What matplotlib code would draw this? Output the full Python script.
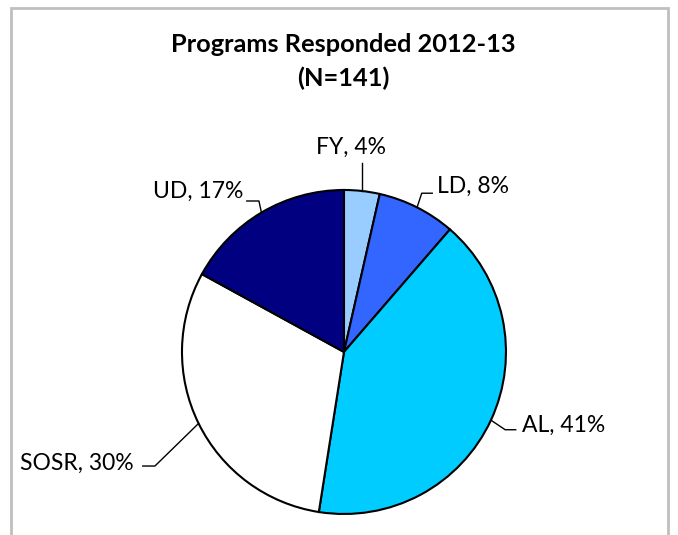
import numpy as np
import matplotlib.pyplot as plt
from matplotlib.patches import Rectangle

# programs responding (counts out of N=141)
programs = ["FY", "LD", "AL", "SOSR", "UD"]
counts = [5, 11, 58, 43, 24]
colors = ["#99CCFF", "#3366FF", "#00CCFF", "#FFFFFF", "#000080"]

# label placement: text position, elbow point of the leader, alignment
label_pos = {
    "FY": ((0.043, 1.265), None, "center"),
    "LD": ((0.574, 1.02), (0.48, 0.98), "left"),
    "AL": ((1.10, -0.45), (0.995, -0.48), "left"),
    "SOSR": ((-1.296, -0.69), (-1.167, -0.704), "right"),
    "UD": ((-0.623, 0.99), (-0.525, 0.932), "right"),
}

plt.rcParams['font.family'] = ['Lato', 'DejaVu Sans']

fig = plt.figure(figsize=(6.78, 5.35), dpi=100)

# chart frame
fig.patches.append(Rectangle((11 / 678, -0.05), 657 / 678, 1.05 - 8 / 535,
                             transform=fig.transFigure, fill=False,
                             edgecolor="#BFBFBF", linewidth=2))

ax = fig.add_axes([0.2684, 0.0393, 0.4779, 0.6056])
wedges, _ = ax.pie(counts, colors=colors, startangle=90, counterclock=False,
                   radius=1, wedgeprops=dict(edgecolor="black", linewidth=1.5))
ax.set_xlim(-1, 1)
ax.set_ylim(-1, 1)
ax.set_aspect("equal")
ax.axis("off")

total = sum(counts)
for w, name, c in zip(wedges, programs, counts):
    ang = np.deg2rad((w.theta1 + w.theta2) / 2)
    x0, y0 = np.cos(ang), np.sin(ang)
    (tx, ty), elbow, ha = label_pos[name]
    pct = round(100 * c / total)
    ax.text(tx, ty, f"{name}, {pct}%", ha=ha, va="center", fontsize=16.5,
            clip_on=False)
    if elbow is None:
        xs, ys = [x0, x0], [y0, 1.167]
    else:
        ex, ey = elbow
        end = ex + (0.065 if ha == "left" else -0.075)
        xs, ys = [x0, ex, end], [y0, ey, ey]
    ax.plot(xs, ys, color="black", linewidth=1, clip_on=False)

fig.text(0.507, 1 - 45 / 535, "Programs Responded 2012-13", ha="center",
         va="center", fontsize=18.3, fontweight="bold")
fig.text(0.507, 1 - 78 / 535, "(N=141)", ha="center", va="center",
         fontsize=18.3, fontweight="bold")

fig.savefig("out.png", dpi=100)
